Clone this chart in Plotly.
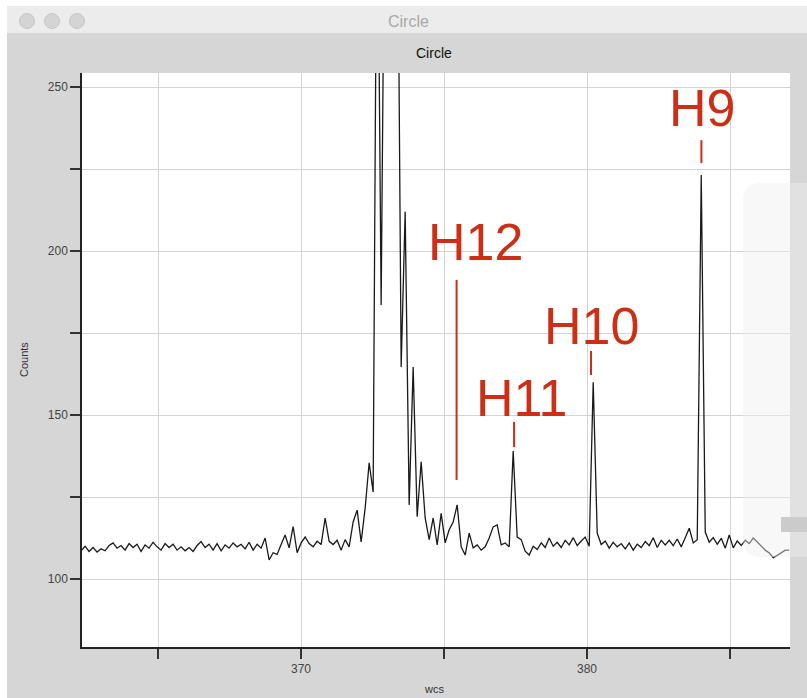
import plotly.graph_objects as go

# ---------------- data ----------------
WAVE_START = 362.31
WAVE_STEP = 0.1399
COUNTS = [
    108.6, 110.0, 108.4, 109.6, 108.2, 109.2, 108.6, 110.2, 111.0, 109.4,
    110.2, 108.8, 110.8, 109.6, 110.6, 108.4, 110.4, 109.4, 111.2, 109.8,
    108.8, 110.8, 109.6, 110.6, 108.8, 109.8, 108.6, 109.6, 108.4, 110.2,
    111.4, 109.6, 110.6, 108.8, 110.8, 108.6, 110.4, 109.4, 111.0, 109.8,
    110.6, 109.2, 111.2, 108.8, 110.6, 109.4, 112.5, 105.8, 108.0, 107.5,
    110.5, 113.4, 109.5, 116.0, 108.0, 111.0, 112.8, 110.8, 109.8, 111.5,
    110.5, 118.6, 111.5, 110.5, 111.8, 108.8, 112.0, 109.8, 117.4, 121.0,
    111.3, 121.6, 135.4, 126.5, 330.0, 183.5, 330.0, 420.0, 420.0, 330.0,
    164.6, 212.0, 122.6, 164.6, 119.0, 135.7, 118.6, 112.0, 118.6, 110.4,
    120.0, 111.0, 115.0, 117.4, 122.6, 109.8, 107.3, 114.0, 109.5, 110.4,
    108.8, 109.8, 112.5, 115.9, 116.5, 110.4, 111.0, 109.8, 139.0, 112.8,
    112.0, 108.5, 107.3, 110.0, 109.0, 111.0, 109.6, 112.5, 110.0, 111.2,
    109.6, 111.8, 110.4, 112.6, 110.2, 111.6, 112.8, 110.0, 160.0, 114.0,
    110.5, 111.6, 109.4, 111.2, 109.8, 110.8, 109.2, 111.0, 108.8, 110.6,
    109.6, 111.4, 110.2, 112.6, 109.6, 111.8, 110.4, 111.8, 110.2, 112.2,
    109.8, 112.6, 115.5, 111.0, 112.0, 223.2, 114.3, 111.2, 112.6, 110.6,
    112.4, 109.4, 113.4, 109.5, 111.6, 110.2, 111.8, 110.8, 112.5, 111.3,
    110.0, 108.8, 107.9, 106.5, 107.2, 107.9, 108.8, 108.8,
]
WAVES = [WAVE_START + i * WAVE_STEP for i in range(len(COUNTS))]

X_TICKS = [365, 370, 375, 380, 385]
X_TICK_TEXT = ["", "370", "", "380", ""]
Y_TICKS = [100, 125, 150, 175, 200, 225, 250]
Y_TICK_TEXT = ["100", "", "150", "", "200", "", "250"]

LINE_NAMES = ["H9", "H10", "H11", "H12"]
LINE_WAVE = [384.00, 380.14, 377.45, 375.44]
LABEL_WAVE = [384.02, 380.17, 377.73, 376.10]
LABEL_COUNT = [243.6, 177.1, 155.2, 202.7]
MARK_TOP = [233.8, 169.5, 147.9, 191.2]
MARK_BOTTOM = [226.8, 162.2, 140.2, 130.2]

# ---------------- layout geometry ----------------
W, H = 807, 698
L, R, T, B = 82, 790, 73, 647


def px(xp):
    return (xp - L) / (R - L)


def py(yp):
    return (B - yp) / (B - T)


RED = "#cc2f16"

fig = go.Figure()
fig.add_trace(go.Scatter(
    x=WAVES, y=COUNTS, mode="lines",
    line=dict(color="#1a1a1a", width=1.3),
    hoverinfo="skip", showlegend=False,
))

shapes = []
# white screenshot margins
shapes.append(dict(type="rect", xref="paper", yref="paper", x0=px(-5), x1=px(812), y0=py(6), y1=py(-5),
                   fillcolor="white", line_width=0, layer="below"))
shapes.append(dict(type="rect", xref="paper", yref="paper", x0=px(-5), x1=px(7), y0=py(705), y1=py(-5),
                   fillcolor="white", line_width=0, layer="below"))
# title bar
shapes.append(dict(type="rect", xref="paper", yref="paper", x0=px(7), x1=px(812), y0=py(33), y1=py(6),
                   fillcolor="#ececec", line_width=0, layer="below"))
# traffic lights
for cx in (27, 52, 77):
    shapes.append(dict(type="circle", xref="paper", yref="paper",
                       x0=px(cx - 7.5), x1=px(cx + 7.5), y0=py(21 + 7.5), y1=py(21 - 7.5),
                       fillcolor="#d4d4d4", line=dict(color="#c6c6c6", width=1), layer="below"))

# peak markers
for lw, yt, yb in zip(LINE_WAVE, MARK_TOP, MARK_BOTTOM):
    shapes.append(dict(type="line", xref="x", yref="y", x0=lw, x1=lw, y0=yb, y1=yt,
                       line=dict(color=RED, width=2), layer="above"))

# translucent overlay on right
ox0, ox1, oy0, oy1, rr = 743, 812, 183, 557, 18
path = (f"M {px(ox0 + rr)},{py(oy0)} L {px(ox1)},{py(oy0)} L {px(ox1)},{py(oy1)} "
        f"L {px(ox0 + rr)},{py(oy1)} Q {px(ox0)},{py(oy1)} {px(ox0)},{py(oy1 - rr)} "
        f"L {px(ox0)},{py(oy0 + rr)} Q {px(ox0)},{py(oy0)} {px(ox0 + rr)},{py(oy0)} Z")
shapes.append(dict(type="path", xref="paper", yref="paper", path=path,
                   fillcolor="rgba(240,240,240,0.45)", line_width=0, layer="above"))
shapes.append(dict(type="rect", xref="paper", yref="paper", x0=px(781), x1=px(812), y0=py(532), y1=py(517),
                   fillcolor="#cbcbcb", line_width=0, layer="above"))

annotations = []
annotations.append(dict(text="Circle", xref="paper", yref="paper", x=px(408), y=py(21),
                        showarrow=False, xanchor="center", yanchor="middle",
                        font=dict(family="Liberation Sans, Arial", size=16, color="#a9a9a9")))
annotations.append(dict(text="Circle", xref="paper", yref="paper", x=px(434), y=py(53),
                        showarrow=False, xanchor="center", yanchor="middle",
                        font=dict(family="Liberation Sans, Arial", size=14, color="#111111")))
annotations.append(dict(text="wcs", xref="paper", yref="paper", x=px(434), y=py(689),
                        showarrow=False, xanchor="center", yanchor="middle",
                        font=dict(family="Liberation Sans, Arial", size=11, color="#333333")))
annotations.append(dict(text="Counts", xref="paper", yref="paper", x=px(24), y=py(360),
                        showarrow=False, xanchor="center", yanchor="middle", textangle=-90,
                        font=dict(family="Liberation Sans, Arial", size=11, color="#333333")))
for name, lx, ly in zip(LINE_NAMES, LABEL_WAVE, LABEL_COUNT):
    annotations.append(dict(text=name, xref="x", yref="y", x=lx, y=ly, showarrow=False,
                            xanchor="center", yanchor="middle",
                            font=dict(family="Liberation Sans, Arial", size=52, color=RED)))

x_lo = 370 + (L - 301) / 28.6
x_hi = 380 + (R - 587) / 28.6
y_lo = 100 - (B - 579) / 3.28
y_hi = 250 + (87 - T) / 3.28

fig.update_layout(
    width=W, height=H, autosize=False,
    margin=dict(l=L, r=W - R, t=T, b=H - B, pad=0),
    paper_bgcolor="#d6d6d6", plot_bgcolor="white",
    font=dict(family="Liberation Sans, Arial", size=12, color="#444444"),
    shapes=shapes, annotations=annotations,
    xaxis=dict(range=[x_lo, x_hi], tickvals=X_TICKS, ticktext=X_TICK_TEXT,
               ticks="outside", ticklen=10, tickwidth=1.5, tickcolor="#333333",
               showline=True, linecolor="#222222", linewidth=1.5, mirror=False,
               showgrid=True, gridcolor="#d3d3d3", gridwidth=1, zeroline=False,
               tickfont=dict(size=12, color="#444444")),
    yaxis=dict(range=[y_lo, y_hi], tickvals=Y_TICKS, ticktext=Y_TICK_TEXT,
               ticks="outside", ticklen=10, tickwidth=1.5, tickcolor="#333333",
               showline=True, linecolor="#222222", linewidth=1.5, mirror=False,
               showgrid=True, gridcolor="#d3d3d3", gridwidth=1, zeroline=False,
               tickfont=dict(size=12, color="#444444")),
)

fig.write_html("out.html")
